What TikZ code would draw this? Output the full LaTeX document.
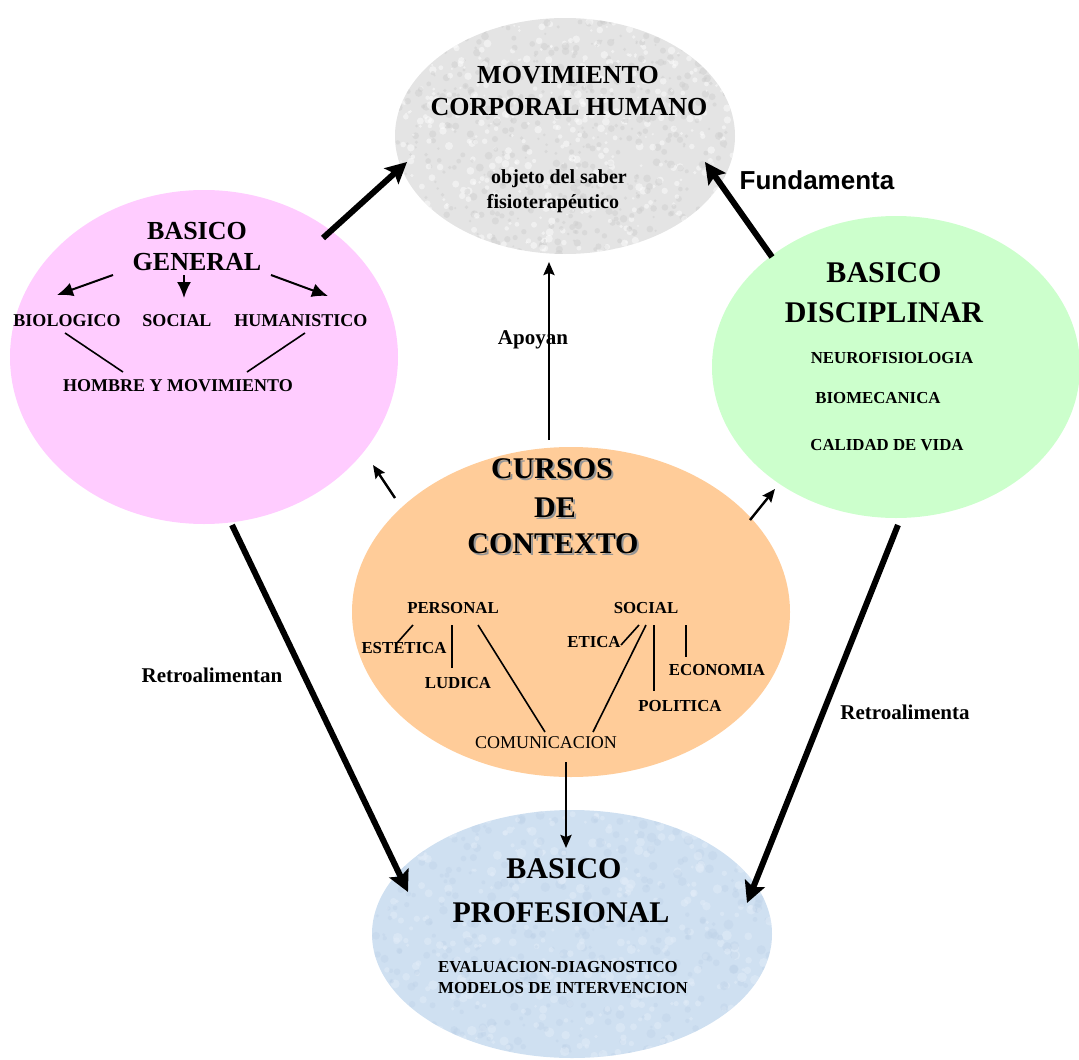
\documentclass[tikz,border=0pt]{standalone}
\usepackage{fontspec}
\setmainfont{Liberation Serif}
\newfontfamily\headsans{Liberation Sans}
\usetikzlibrary{shapes.geometric,arrows.meta,calc}

\definecolor{pinkfill}{RGB}{255,204,255}
\definecolor{greenfill}{RGB}{204,255,204}
\definecolor{orangefill}{RGB}{255,204,153}
\definecolor{grayfill}{RGB}{228,228,228}
\definecolor{graydark}{RGB}{205,205,205}
\definecolor{bluefill}{RGB}{207,224,241}
\definecolor{bluelight}{RGB}{226,236,248}
\definecolor{bluedark}{RGB}{188,208,231}
\definecolor{shadowgray}{RGB}{150,150,150}

\tikzset{
  blob/.style={ellipse, inner sep=0pt, draw=none},
  txt/.style={inner sep=0pt, text depth=0pt},
  hugetxt/.style={txt, text height=20.2pt, font=\bfseries\fontsize{30}{32}\selectfont},
  bigtxt/.style={txt, text height=17.6pt, font=\bfseries\fontsize{26}{28}\selectfont},
  midtxt/.style={txt, text height=13.6pt, font=\bfseries\fontsize{20}{22}\selectfont},
  lbltxt/.style={txt, text height=14.2pt, font=\bfseries\fontsize{21}{23}\selectfont},
  smalltxt/.style={txt, text height=12.2pt, font=\bfseries\fontsize{18}{20}\selectfont},
  tinytxt/.style={txt, text height=11.4pt, font=\bfseries\fontsize{16.8}{18}\selectfont},
  plaintxt/.style={txt, text height=12.2pt, font=\fontsize{18}{20}\selectfont},
  sanstxt/.style={txt, text height=18.6pt, font=\headsans\bfseries\fontsize{26}{28}\selectfont},
  heavyarrow/.style={line width=6pt, -{Stealth[length=21pt,width=21pt,inset=4pt]}},
  thinarrow/.style={line width=2.4pt, -{Stealth[length=13pt,width=11pt,inset=2pt]}},
  innerarrow/.style={line width=2pt, -{Latex[length=16pt,width=14pt]}},
  link/.style={line width=1.6pt},
}

\begin{document}
\begin{tikzpicture}[x=1pt,y=1pt]
\useasboundingbox (0,0) rectangle (1079,-1060);

% ---------- the five areas ----------
\node[blob, fill=grayfill, minimum width=340pt, minimum height=236pt] (gray) at (565,-136) {};
\node[blob, fill=pinkfill, minimum width=388pt, minimum height=334pt] (pink) at (204,-357) {};
\node[blob, fill=greenfill, minimum width=368pt, minimum height=302pt] (green) at (896,-367) {};
\node[blob, fill=orangefill, minimum width=438pt, minimum height=330pt] (orange) at (571,-612) {};
\node[blob, fill=bluefill, minimum width=400pt, minimum height=248pt] (blue) at (572,-934) {};

% stone texture on the central object
\begin{scope}
  \clip (gray.center) ellipse [x radius=170pt, y radius=118pt];
  \pgfmathsetseed{4242}
  \foreach \k in {1,...,1100}{
    \pgfmathsetmacro\px{rand*172}
    \pgfmathsetmacro\py{rand*120}
    \pgfmathsetmacro\pr{1+3*rnd}
    \pgfmathsetmacro\pc{rnd}
    \ifdim\pc pt<0.5pt
      \fill[white, opacity=0.45] ($(gray.center)+(\px,\py)$) circle (\pr);
    \else
      \fill[graydark, opacity=0.45] ($(gray.center)+(\px,\py)$) circle (\pr);
    \fi
  }
\end{scope}

% paper texture on the professional area
\begin{scope}
  \clip (blue.center) ellipse [x radius=200pt, y radius=124pt];
  \pgfmathsetseed{777}
  \foreach \k in {1,...,800}{
    \pgfmathsetmacro\px{rand*202}
    \pgfmathsetmacro\py{rand*126}
    \pgfmathsetmacro\pr{1.5+3.5*rnd}
    \pgfmathsetmacro\pc{rnd}
    \ifdim\pc pt<0.5pt
      \fill[bluelight, opacity=0.5] ($(blue.center)+(\px,\py)$) circle (\pr);
    \else
      \fill[bluedark, opacity=0.35] ($(blue.center)+(\px,\py)$) circle (\pr);
    \fi
  }
\end{scope}

% ---------- MOVIMIENTO CORPORAL HUMANO ----------
\node[bigtxt] (mov1) at (568,-75) {MOVIMIENTO};
\node[bigtxt] (mov2) at (569,-107) {CORPORAL HUMANO};
\node[midtxt] (obj1) at (559,-177) {objeto del saber};
\node[midtxt] (obj2) at (553,-202) {fisioterapéutico};

% ---------- BASICO GENERAL ----------
\node[bigtxt] (gen1) at (197,-231) {BASICO};
\node[bigtxt] (gen2) at (197,-262) {GENERAL};
\node[smalltxt] (bio) at (67,-320) {BIOLOGICO};
\node[smalltxt] (soc) at (177,-320) {SOCIAL};
\node[smalltxt] (hum) at (301,-320) {HUMANISTICO};
\node[smalltxt] (hom) at (178,-385) {HOMBRE Y MOVIMIENTO};

\draw[innerarrow] ([xshift=-84pt,yshift=-13pt]gen2.center) -- ([xshift=-10pt,yshift=25pt]bio.center);
\draw[innerarrow] ([xshift=-13pt,yshift=-13pt]gen2.center) -- ([xshift=7pt,yshift=22pt]soc.center);
\draw[innerarrow] ([xshift=74pt,yshift=-13pt]gen2.center) -- ([xshift=27pt,yshift=24pt]hum.center);
\draw[link] ([xshift=-2pt,yshift=-13pt]bio.center) -- ([xshift=-55pt,yshift=13pt]hom.center);
\draw[link] ([xshift=4pt,yshift=-13pt]hum.center) -- ([xshift=69pt,yshift=13pt]hom.center);

% ---------- BASICO DISCIPLINAR ----------
\node[hugetxt] (dis1) at (884,-272) {BASICO};
\node[hugetxt] (dis2) at (884,-312) {DISCIPLINAR};
\node[tinytxt] (neu) at (892,-358) {NEUROFISIOLOGIA};
\node[tinytxt] (bme) at (878,-398) {BIOMECANICA};
\node[tinytxt] (cal) at (887,-445) {CALIDAD DE VIDA};

% ---------- CURSOS DE CONTEXTO ----------
\node[hugetxt, text=shadowgray] (cur1s) at (554,-470) {CURSOS};
\node[hugetxt, text=shadowgray] (cur2s) at (557,-509) {DE};
\node[hugetxt, text=shadowgray] (cur3s) at (555,-545) {CONTEXTO};
\node[hugetxt] (cur1) at (552,-468) {CURSOS};
\node[hugetxt] (cur2) at (555,-507) {DE};
\node[hugetxt] (cur3) at (553,-543) {CONTEXTO};

\node[tinytxt] (per) at (453,-608) {PERSONAL};
\node[tinytxt] (csoc) at (646,-608) {SOCIAL};
\node[tinytxt] (est) at (404,-648) {ESTETICA};
\node[tinytxt] (lud) at (458,-683) {LUDICA};
\node[tinytxt] (eti) at (594,-642) {ETICA};
\node[tinytxt] (eco) at (717,-670) {ECONOMIA};
\node[tinytxt] (pol) at (680,-706) {POLITICA};
\node[plaintxt] (com) at (546,-742) {COMUNICACION};

\draw[link] ([xshift=-40pt,yshift=-17pt]per.center) -- ([xshift=-7pt,yshift=5pt]est.center);
\draw[link] ([xshift=-1pt,yshift=-17pt]per.center) -- ([xshift=-6pt,yshift=15pt]lud.center);
\draw[link] ([xshift=25pt,yshift=-17pt]per.center) -- ([xshift=-1pt,yshift=10pt]com.center);
\draw[link] ([xshift=-7pt,yshift=-17pt]csoc.center) -- ([xshift=27pt,yshift=-3pt]eti.center);
\draw[link] ([xshift=0pt,yshift=-17pt]csoc.center) -- ([xshift=47pt,yshift=10pt]com.center);
\draw[link] ([xshift=8pt,yshift=-17pt]csoc.center) -- ([xshift=-26pt,yshift=15pt]pol.center);
\draw[link] ([xshift=40pt,yshift=-17pt]csoc.center) -- ([xshift=-31pt,yshift=13pt]eco.center);

% ---------- BASICO PROFESIONAL ----------
\node[hugetxt] (pro1) at (564,-868) {BASICO};
\node[hugetxt] (pro2) at (561,-912) {PROFESIONAL};
\node[tinytxt, anchor=west] (eva) at (438,-967) {EVALUACION-DIAGNOSTICO};
\node[tinytxt, anchor=west] (mod) at (438,-988) {MODELOS DE INTERVENCION};

% ---------- relations between areas ----------
\draw[heavyarrow] ([xshift=119pt,yshift=119pt]pink.center) -- ([xshift=-158pt,yshift=-26pt]gray.center);
\draw[heavyarrow] ([xshift=-124pt,yshift=110pt]green.center) -- ([xshift=140pt,yshift=-26pt]gray.center);
\draw[heavyarrow] ([xshift=28pt,yshift=-168pt]pink.center) -- ([xshift=-164pt,yshift=42pt]blue.center);
\draw[heavyarrow] ([xshift=2pt,yshift=-158pt]green.center) -- ([xshift=175pt,yshift=31pt]blue.center);

\draw[thinarrow] ([xshift=-22pt,yshift=172pt]orange.center) -- ([xshift=-16pt,yshift=-126pt]gray.center);
\draw[thinarrow] ([xshift=-176pt,yshift=114pt]orange.center) -- ([xshift=169pt,yshift=-108pt]pink.center);
\draw[thinarrow] ([xshift=179pt,yshift=92pt]orange.center) -- ([xshift=-121pt,yshift=-122pt]green.center);
\draw[thinarrow] ([xshift=-5pt,yshift=-150pt]orange.center) -- ([xshift=-6pt,yshift=86pt]blue.center);

% ---------- relation labels ----------
\node[sanstxt] (fund) at (817,-180) {Fundamenta};
\node[lbltxt] (apo) at (533,-337) {Apoyan};
\node[lbltxt] (ret1) at (212,-675) {Retroalimentan};
\node[lbltxt] (ret2) at (905,-712) {Retroalimenta};
\end{tikzpicture}
\end{document}
